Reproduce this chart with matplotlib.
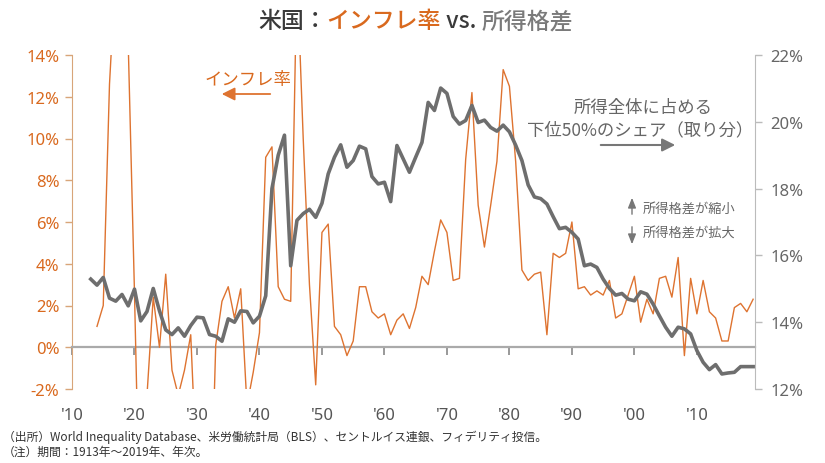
import matplotlib
matplotlib.use("Agg")
import matplotlib.pyplot as plt
import numpy as np

plt.rcParams['font.family'] = ['Noto Sans CJK JP', 'DejaVu Sans']

# ---------------- data ----------------
share_years = list(range(1913, 2020))
bottom50_share = [
    15.29, 15.11, 15.34, 14.72, 14.63, 14.83, 14.49, 14.99, 14.04, 14.32,  # 1913-1922
    15.01, 14.34, 13.77, 13.63, 13.83, 13.58, 13.90, 14.15, 14.13, 13.63,  # 1923-1932
    13.58, 13.43, 14.10, 14.00, 14.34, 14.32, 13.98, 14.18, 14.79, 18.00,  # 1933-1942
    19.00, 19.60, 15.69, 17.05, 17.25, 17.38, 17.14, 17.56, 18.44, 18.94,  # 1943-1952
    19.31, 18.64, 18.84, 19.27, 19.19, 18.36, 18.14, 18.19, 17.61, 19.29,  # 1953-1962
    18.89, 18.49, 18.94, 19.38, 20.58, 20.34, 21.01, 20.85, 20.16, 19.93,  # 1963-1972
    20.04, 20.49, 19.98, 20.05, 19.83, 19.72, 19.90, 19.70, 19.30, 18.84,  # 1973-1982
    18.11, 17.75, 17.70, 17.54, 17.16, 16.80, 16.84, 16.69, 16.49, 15.69,  # 1983-1992
    15.74, 15.64, 15.29, 15.01, 14.81, 14.86, 14.69, 14.64, 14.91, 14.84,  # 1993-2002
    14.54, 14.19, 13.85, 13.58, 13.85, 13.80, 13.65, 13.15, 12.80, 12.58,  # 2003-2012
    12.73, 12.45, 12.48, 12.50, 12.67, 12.67, 12.67,                       # 2013-2019
]

infl_years = list(range(1914, 2020))
inflation = [
    1.0, 2.0, 12.6, 18.1, 20.4, 14.5, 2.6, -10.8, -2.3,                    # 1914-1922
    2.4, 0.0, 3.5, -1.1, -2.3, -1.1, 0.6, -6.4, -9.3, -10.3,               # 1923-1932
    0.1, 2.2, 2.9, 1.4, 2.8, -2.8, -1.2, 0.7, 9.1, 9.6,                    # 1933-1942
    2.9, 2.3, 2.2, 18.1, 10.0, 3.0, -1.8, 5.5, 5.9, 1.0,                   # 1943-1952
    0.6, -0.4, 0.3, 2.9, 2.9, 1.7, 1.4, 1.6, 0.6, 1.3,                     # 1953-1962
    1.6, 0.9, 1.9, 3.4, 3.0, 4.6, 6.1, 5.5, 3.2, 3.3,                      # 1963-1972
    9.0, 12.2, 6.8, 4.8, 6.8, 8.9, 13.3, 12.5, 8.9, 3.7,                   # 1973-1982
    3.2, 3.5, 3.6, 0.6, 4.5, 4.3, 4.5, 6.0, 2.8, 2.9,                      # 1983-1992
    2.5, 2.7, 2.5, 3.2, 1.4, 1.6, 2.5, 3.4, 1.2, 2.3,                      # 1993-2002
    1.6, 3.3, 3.4, 2.4, 4.3, -0.4, 3.3, 1.6, 3.2, 1.7,                     # 2003-2012
    1.4, 0.3, 0.3, 1.9, 2.1, 1.7, 2.3,                                     # 2013-2019
]

x_ticks = list(range(1910, 2020, 10))
x_tick_labels = ["'10", "'20", "'30", "'40", "'50", "'60", "'70", "'80", "'90", "'00", "'10"]
left_ticks = list(range(-2, 15, 2))
right_ticks = list(range(12, 23, 2))

# ---------------- style ----------------
ORANGE = '#DE7330'
ORANGE_TXT = '#D9691E'
GRAY = '#6E6E6E'
DARK = '#3A3A3A'

W, H = 825, 464
fig = plt.figure(figsize=(W / 100, H / 100), dpi=100)
ax = fig.add_axes([72 / W, 1 - 390 / H, (755 - 72) / W, (390 - 56) / H])

ax.plot(infl_years, inflation, color=ORANGE, lw=1.0, zorder=3)
ax.set_xlim(1910, 2019.3)
ax.set_ylim(-2, 14)
ax.set_yticks(left_ticks)
ax.set_yticklabels([f'{v}%' for v in left_ticks], fontsize=12, color=ORANGE_TXT,
                   family=['Noto Sans', 'DejaVu Sans'])
ax.tick_params(axis='y', colors='#D8A579', length=5, width=1, labelcolor=ORANGE_TXT, pad=4)
ax.spines['left'].set_color('#D8A579')
ax.spines['top'].set_visible(False)
ax.spines['right'].set_visible(False)

# bottom spine acts as the zero line; tick labels pushed down to the bottom
ax.spines['bottom'].set_position(('data', 0))
ax.spines['bottom'].set_color('#AAAAAA')
ax.spines['bottom'].set_linewidth(1.6)
ax.set_xticks(x_ticks)
ax.set_xticklabels(x_tick_labels, fontsize=12, color='#555555',
                   family=['Noto Sans', 'DejaVu Sans'])
ax.tick_params(axis='x', length=6, width=1.2, color='#888888', direction='out',
               pad=37, labelcolor='#555555')

ax2 = ax.twinx()
ax2.plot(share_years, bottom50_share, color=GRAY, lw=2.6, zorder=4)
ax2.set_ylim(12, 22)
ax2.set_yticks(right_ticks)
ax2.set_yticklabels([f'{v}%' for v in right_ticks], fontsize=12, color='#666666',
                    family=['Noto Sans', 'DejaVu Sans'])
ax2.tick_params(axis='y', colors='#BBBBBB', length=5, width=1, labelcolor='#666666', pad=6)
ax2.spines['right'].set_color('#BBBBBB')
for s in ['top', 'left', 'bottom']:
    ax2.spines[s].set_visible(False)

# ---------------- title ----------------
pieces = [('米国：', DARK), ('インフレ率', ORANGE_TXT), (' vs. ', DARK), ('所得格差', '#7A7A7A')]
renderer = fig.canvas.get_renderer()
texts = []
for s, c in pieces:
    t = fig.text(0, 1 - 22 / H, s, color=c, fontsize=16.5, fontweight='medium', va='center', ha='left')
    texts.append(t)
widths = [t.get_window_extent(renderer).width for t in texts]
total = sum(widths)
x0 = (W / 2 + 3 - total / 2)
for t, w in zip(texts, widths):
    t.set_x(x0 / W)
    x0 += w


def fx(px):
    return px / W


def fy(py):
    return 1 - py / H


# ---------------- annotations ----------------
fig.text(fx(248), fy(80), 'インフレ率', color=ORANGE_TXT, fontsize=12.5, ha='center', va='center')
fig.add_artist(matplotlib.patches.FancyArrowPatch((fx(273), fy(95)), (fx(219), fy(95)),
               transform=fig.transFigure, arrowstyle='-|>,head_length=6,head_width=3',
               color=ORANGE, lw=1.3, mutation_scale=1.3))

fig.text(fx(643), fy(108), '所得全体に占める', color='#666666', fontsize=12.5, ha='center', va='center')
fig.text(fx(640), fy(130), '下位50%のシェア（取り分）', color='#666666', fontsize=12.5, ha='center', va='center')
fig.add_artist(matplotlib.patches.FancyArrowPatch((fx(598), fy(146)), (fx(678), fy(146)),
               transform=fig.transFigure, arrowstyle='-|>,head_length=6,head_width=3',
               color='#777777', lw=1.5, mutation_scale=1.3))

fig.add_artist(matplotlib.patches.FancyArrowPatch((fx(632), fy(218)), (fx(632), fy(196)),
               transform=fig.transFigure, arrowstyle='-|>,head_length=5,head_width=2',
               color='#777777', lw=1.0, mutation_scale=1.2))
fig.add_artist(matplotlib.patches.FancyArrowPatch((fx(632), fy(225)), (fx(632), fy(248)),
               transform=fig.transFigure, arrowstyle='-|>,head_length=5,head_width=2',
               color='#777777', lw=1.0, mutation_scale=1.2))
fig.text(fx(643), fy(209), '所得格差が縮小', color='#666666', fontsize=9.5, ha='left', va='center')
fig.text(fx(643), fy(233), '所得格差が拡大', color='#666666', fontsize=9.5, ha='left', va='center')

# ---------------- footnotes ----------------
fig.text(fx(3), fy(437), '（出所）World Inequality Database、米労働統計局（BLS）、セントルイス連銀、フィデリティ投信。',
         color='#333333', fontsize=8.5, ha='left', va='center')
fig.text(fx(3), fy(452), '（注）期間：1913年～2019年、年次。',
         color='#333333', fontsize=8.5, ha='left', va='center')

fig.savefig('out.png', dpi=100)
